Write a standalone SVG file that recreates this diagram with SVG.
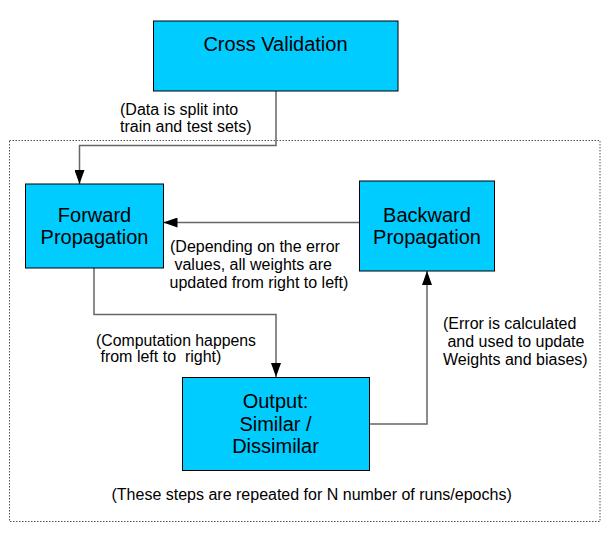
<svg xmlns="http://www.w3.org/2000/svg" width="608" height="544" viewBox="0 0 608 544">
<style>
.box{fill:#00ccff;stroke:#000;stroke-width:1}
.t{font-family:"Liberation Sans",Arial,sans-serif;font-size:20px;fill:#000;text-anchor:middle}
.l{font-family:"Liberation Sans",Arial,sans-serif;font-size:16px;fill:#000}
.c{fill:none;stroke:#666;stroke-width:1.5}
</style>
<defs>
<marker id="ah" viewBox="0 0 14 10" refX="14" refY="5" markerWidth="14" markerHeight="10" markerUnits="userSpaceOnUse" orient="auto">
<path d="M0,0 L14,5 L0,10 Z" fill="#000"/>
</marker>
</defs>
<rect width="608" height="544" fill="#fff"/>
<rect id="loop" x="9.5" y="140.5" width="590.5" height="381" fill="none" stroke="#555" stroke-width="1" stroke-dasharray="1.5,1.5"/>
<g id="connectors">
<path class="c" d="M276,91 V145.5 H79.5 V184" marker-end="url(#ah)"/>
<path class="c" d="M359,222.5 H163.5" marker-end="url(#ah)"/>
<path class="c" d="M94,268 V314.5 H276 V377" marker-end="url(#ah)"/>
<path class="c" d="M369.5,424 H427 V271" marker-end="url(#ah)"/>
</g>
<g id="cross-validation">
<rect class="box" x="153.5" y="21" width="244.5" height="70"/>
<text class="t" x="275.5" y="51">Cross Validation</text>
</g>
<g id="forward-propagation">
<rect class="box" x="25.5" y="184" width="138" height="84"/>
<text class="t" x="94.5" y="221.5">Forward</text>
<text class="t" x="94.5" y="244">Propagation</text>
</g>
<g id="backward-propagation">
<rect class="box" x="359.5" y="181" width="135" height="90"/>
<text class="t" x="427" y="221.5">Backward</text>
<text class="t" x="427" y="244">Propagation</text>
</g>
<g id="output">
<rect class="box" x="182.5" y="377.5" width="187" height="93"/>
<text class="t" x="275.5" y="408">Output:</text>
<text class="t" x="275.5" y="430.5">Similar /</text>
<text class="t" x="275.5" y="453">Dissimilar</text>
</g>
<g id="labels">
<text class="l" x="120" y="114.5">(Data is split into</text>
<text class="l" x="120" y="132">train and test sets)</text>
<text class="l" x="170" y="251.5">(Depending on the error</text>
<text class="l" x="170" y="269.5" xml:space="preserve"> values, all weights are</text>
<text class="l" x="169.5" y="287.5">updated from right to left)</text>
<text class="l" x="96" y="346" textLength="160" lengthAdjust="spacingAndGlyphs">(Computation happens</text>
<text class="l" x="96" y="362" xml:space="preserve"> from left to  right)</text>
<text class="l" x="443" y="328.5">(Error is calculated</text>
<text class="l" x="443" y="346.5" xml:space="preserve"> and used to update</text>
<text class="l" x="443" y="364.5">Weights and biases)</text>
<text class="l" x="111.5" y="500">(These steps are repeated for N number of runs/epochs)</text>
</g>
</svg>
